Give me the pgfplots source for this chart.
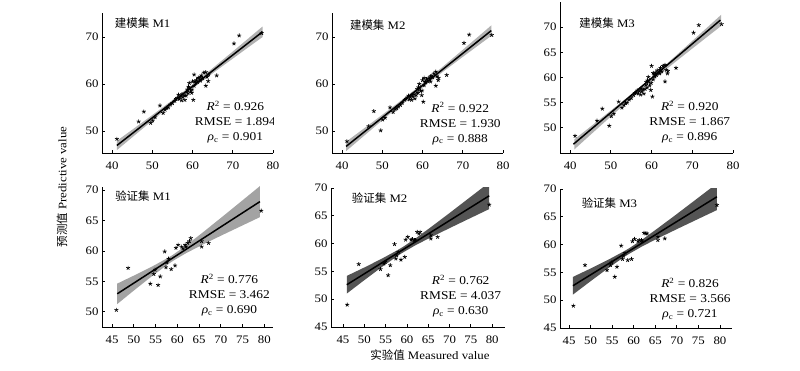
\documentclass[border=0pt]{standalone}
\usepackage{pgfplots}
\pgfplotsset{compat=1.18}
\usepackage{pgfplotstable}
\usepackage{fontspec}
\setmainfont{Liberation Serif}[FakeStretch=1.12]
\newfontfamily\cjk{Noto Sans CJK SC}

\pgfplotstableread{
x m1 m2 m3
41.2 48.3 47.8 48.4
46.6 52.0 51.0 51.4
47.9 54.1 54.2 53.8
49.6 51.7 50.1 50.4
50.1 52.2 52.4 52.3
50.7 52.9 52.8 52.8
51.9 55.4 55.0 55.2
52.7 53.8 54.0 54.0
53.2 54.5 54.6 54.5
53.6 54.9 54.8 54.9
54.0 55.0 55.2 55.0
54.5 55.6 55.5 55.6
55.0 55.9 56.0 55.9
55.6 56.4 56.6 56.5
55.9 56.8 56.8 56.9
56.2 57.0 57.1 57.0
56.5 57.7 57.5 57.4
56.7 56.8 56.7 56.8
57.0 57.3 57.2 57.3
57.3 56.5 56.6 56.6
57.4 57.8 57.7 57.8
57.6 57.2 57.3 57.2
57.9 57.6 57.8 57.6
58.1 56.6 56.9 56.8
58.4 57.5 57.6 57.7
58.6 58.3 58.2 58.5
58.7 58.8 58.9 59.1
58.9 58.0 58.1 58.0
59.0 59.4 59.3 59.4
59.2 59.1 59.0 59.2
59.2 60.2 60.0 60.1
59.5 58.4 58.5 58.4
59.8 58.1 57.6 57.5
59.9 58.8 58.6 58.9
60.2 56.6 56.2 56.2
60.0 60.5 60.8 62.3
60.4 59.6 59.7 59.6
60.6 60.6 60.5 60.7
60.8 60.2 60.3 60.2
61.0 60.8 61.0 61.0
60.4 62.0 61.3 60.9
61.2 60.4 60.6 60.5
61.4 61.3 61.2 61.4
61.8 61.0 61.1 61.0
62.0 60.7 60.5 60.8
62.0 61.5 61.6 61.5
62.2 61.8 61.7 61.9
62.5 61.2 61.4 61.2
62.8 62.4 62.2 62.3
63.3 62.5 62.6 62.5
63.3 59.6 59.6 59.2
63.9 60.6 60.8 60.8
63.6 61.5 61.6 61.5
64.0 62.0 61.3 61.3
66.0 61.8 61.9 61.9
70.3 68.6 68.7 68.9
71.6 70.3 70.5 70.4
77.2 70.8 70.4 70.6
}\train

\pgfplotstableread{
x m1 m2 m3
46.0 50.3 49.0 49.0
48.7 57.2 56.3 56.3
53.8 54.6 55.4 55.4
55.6 54.4 54.3 54.2
54.6 56.2 56.4 56.3
54.9 56.9 56.7 56.8
56.1 55.8 56.1 56.0
57.1 59.9 59.9 59.8
57.6 58.1 57.9 58.0
58.0 58.7 58.5 58.5
57.4 57.3 57.3 57.4
58.6 57.0 57.1 57.2
59.5 57.6 57.6 57.4
59.7 60.5 60.7 60.6
60.2 61.0 61.2 61.0
61.0 60.7 60.7 60.6
61.3 60.4 60.8 60.8
61.8 61.0 60.6 60.8
62.4 61.3 62.1 62.1
62.8 61.6 61.8 62.0
63.1 62.1 62.1 62.0
62.0 60.7 60.6 60.6
65.6 60.7 60.9 60.8
65.6 61.6 61.5 61.4
67.2 61.3 61.2 61.1
79.3 66.6 67.0 67.1
}\valid

\tikzset{
  ann/.style={font=\fontsize{12}{15}\selectfont, align=center},
  ttl/.style={font=\fontsize{11.5}{13}\selectfont, anchor=west},
}
\pgfplotsset{
  panel/.style={
    scale only axis,
    anchor=south west,
    axis lines*=left,
    axis line style={line width=0.9bp,-},
    tick align=inside,
    major tick length=3bp,
    tick style={line width=0.8bp,black},
    /pgf/number format/assume math mode=true,
    ticklabel style={font=\fontsize{11.5}{13}\selectfont},
    xticklabel style={yshift=-5bp},
  },
  trainpanel/.style={panel, xmin=37.5, xmax=80, xtick={40,50,...,80}},
  validpanel/.style={panel, xtick={45,50,...,80}},
  stars/.style={only marks, mark=star, mark size=2.1bp, mark options={line width=0.7bp, black}},
  regline/.style={black, line width=1.5bp},
}

\begin{document}
\begin{tikzpicture}
\path[use as bounding box] (0bp,0bp) rectangle (800bp,371bp);

% ---------- P1 ----------
\begin{axis}[trainpanel, at={(102bp,218bp)}, width=171bp, height=140bp,
  ymin=45.3, ymax=75.1, ytick={50,60,70}]
\addplot[fill=black!30, draw=none] coordinates {
 (41.2,47.89) (45,50.25) (50,53.37) (54,55.91) (58,58.53) (62,61.25) (66,64.07) (70,66.90) (74,69.78) (77.4,72.22)
 (77.4,69.98) (74,67.88) (70,65.38) (66,62.89) (62,60.35) (58,57.73) (54,55.01) (50,52.19) (45,48.63) (41.2,45.91)} -- cycle;
\addplot[stars] table[x=x,y=m1]{\train};
\addplot[regline] coordinates {(41.2,46.9) (77.4,71.1)};
\node[ttl] at (rel axis cs:0.055,0.93) {{\cjk 建模集} M1};
\node[ann] at (rel axis cs:0.78,0.22) {\textit{R}\textsuperscript{2} = 0.926\\RMSE = 1.894\\\textit{ρ}\textsubscript{c} = 0.901};
\end{axis}

% ---------- P2 ----------
\begin{axis}[trainpanel, at={(332bp,218bp)}, width=171bp, height=140bp,
  ymin=45.3, ymax=75.1, ytick={50,60,70}]
\addplot[fill=black!30, draw=none] coordinates {
 (41,47.70) (45,50.24) (50,53.44) (54,56.03) (58,58.71) (62,61.49) (66,64.37) (70,67.27) (74,70.19) (77.1,72.47)
 (77.1,70.25) (74,68.29) (70,65.75) (66,63.19) (62,60.59) (58,57.91) (54,55.13) (50,52.26) (45,48.62) (41,45.70)} -- cycle;
\addplot[stars] table[x=x,y=m2]{\train};
\addplot[regline] coordinates {(41,46.7) (77.1,71.36)};
\node[ttl] at (rel axis cs:0.085,0.914) {{\cjk 建模集} M2};
\node[ann] at (rel axis cs:0.75,0.21) {\textit{R}\textsuperscript{2} = 0.922\\RMSE = 1.930\\\textit{ρ}\textsubscript{c} = 0.888};
\end{axis}

% ---------- P3 ----------
\begin{axis}[trainpanel, at={(560bp,218bp)}, width=173bp, height=151bp,
  ymin=45, ymax=75, ytick={50,55,...,70}]
\addplot[fill=black!30, draw=none] coordinates {
 (41,47.70) (45,50.24) (50,53.44) (54,56.03) (58,58.71) (62,61.49) (66,64.37) (70,67.27) (74,70.19) (77.1,72.47)
 (77.1,70.25) (74,68.29) (70,65.75) (66,63.19) (62,60.59) (58,57.91) (54,55.13) (50,52.26) (45,48.62) (41,45.70)} -- cycle;
\addplot[stars] table[x=x,y=m3]{\train};
\addplot[regline] coordinates {(40.8,46.75) (76.9,71.4)};
\node[ttl] at (rel axis cs:0.092,0.86) {{\cjk 建模集} M3};
\node[ann] at (rel axis cs:0.75,0.203) {\textit{R}\textsuperscript{2} = 0.920\\RMSE = 1.867\\\textit{ρ}\textsubscript{c} = 0.896};
\end{axis}

% ---------- P4 ----------
\begin{axis}[validpanel, at={(102bp,44bp)}, width=171bp, height=140bp,
  xmin=42.7, xmax=82, ymin=47.5, ymax=70.5, ytick={50,55,...,70}]
\addplot[fill=black!36, draw=none] coordinates {
 (46.2,54.63) (50,55.94) (54,57.35) (58,58.92) (59,59.36) (62,60.88) (66,63.11) (70,65.41) (74,67.73) (79,70.65)
 (79,65.55) (74,63.85) (70,62.49) (66,61.09) (62,59.62) (59,58.36) (58,57.88) (54,55.75) (50,53.48) (46.2,51.27)} -- cycle;
\addplot[stars] table[x=x,y=m1]{\valid};
\addplot[regline] coordinates {(46.2,52.95) (79,68.1)};
\node[ttl] at (rel axis cs:0.057,0.936) {{\cjk 验证集} M1};
\node[ann] at (rel axis cs:0.745,0.229) {\textit{R}\textsuperscript{2} = 0.776\\RMSE = 3.462\\\textit{ρ}\textsubscript{c} = 0.690};
\end{axis}

% ---------- P5 ----------
\begin{axis}[validpanel, at={(331bp,44bp)}, width=174bp, height=139bp,
  xmin=42.2, xmax=83, ymin=45, ymax=70, ytick={45,50,...,70}]
\addplot[fill=black!67, draw=none] coordinates {
 (45.9,54.19) (50,55.70) (54,57.24) (58,58.91) (59,59.37) (62,60.92) (66,63.18) (70,65.50) (74,67.86) (79.3,70.99)
 (79.3,66.21) (74,64.26) (70,62.78) (66,61.28) (62,59.70) (59,58.37) (58,57.89) (54,55.72) (50,53.42) (45.9,51.01)} -- cycle;
\addplot[stars] table[x=x,y=m2]{\valid};
\addplot[regline] coordinates {(45.9,52.6) (79.3,68.6)};
\node[ttl] at (rel axis cs:0.10,0.926) {{\cjk 验证集} M2};
\node[ann] at (rel axis cs:0.745,0.223) {\textit{R}\textsuperscript{2} = 0.762\\RMSE = 4.037\\\textit{ρ}\textsubscript{c} = 0.630};
\end{axis}

% ---------- P6 ----------
\begin{axis}[validpanel, at={(560bp,43bp)}, width=172bp, height=139bp,
  xmin=42.9, xmax=82.8, ymin=45, ymax=70, ytick={45,50,...,70}]
\addplot[fill=black!67, draw=none] coordinates {
 (45.9,54.19) (50,55.70) (54,57.24) (58,58.91) (59,59.37) (62,60.92) (66,63.18) (70,65.50) (74,67.86) (79.3,70.99)
 (79.3,66.21) (74,64.26) (70,62.78) (66,61.28) (62,59.70) (59,58.37) (58,57.89) (54,55.72) (50,53.42) (45.9,51.01)} -- cycle;
\addplot[stars] table[x=x,y=m3]{\valid};
\addplot[regline] coordinates {(45.9,52.6) (79.3,68.6)};
\node[ttl] at (rel axis cs:0.106,0.90) {{\cjk 验证集} M3};
\node[ann] at (rel axis cs:0.756,0.206) {\textit{R}\textsuperscript{2} = 0.826\\RMSE = 3.566\\\textit{ρ}\textsubscript{c} = 0.721};
\end{axis}

\node[rotate=90, font=\fontsize{11.5}{13}\selectfont] at (62bp,184bp) {{\cjk 预测值} Predictive value};
\node[font=\fontsize{11.5}{13}\selectfont] at (430bp,16bp) {{\cjk 实验值} Measured value};
\end{tikzpicture}
\end{document}
